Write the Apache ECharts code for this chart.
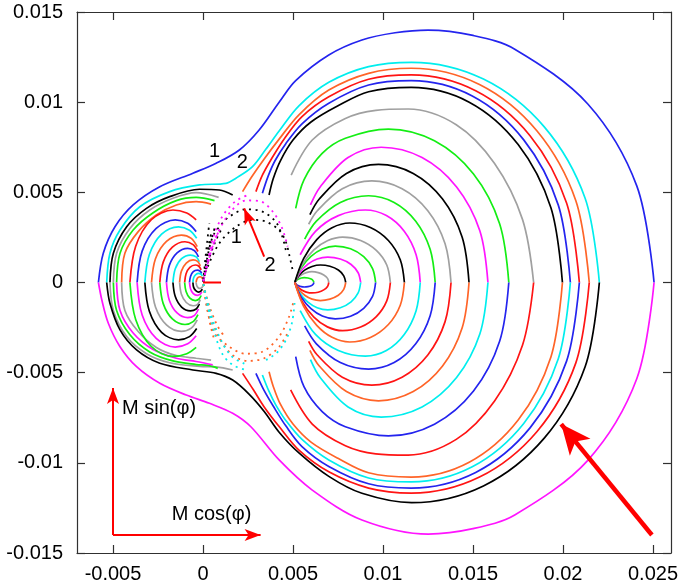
<!DOCTYPE html>
<html>
<head>
<meta charset="utf-8">
<script src="https://cdn.jsdelivr.net/npm/echarts@6/dist/echarts.min.js"></script>
<style>
  html, body { margin: 0; padding: 0; background: #fff; }
  #chart { width: 681px; height: 587px; }
</style>
</head>
<body>
<div id="chart"></div>
<script>
// All curve coordinates below are listed in units of 1e-3 (x = M cos(phi), y = M sin(phi)).
const S = 1e-3;

// axis ticks
const xTickValues = [-0.005, 0, 0.005, 0.01, 0.015, 0.02, 0.025];
const xTickText = ['-0.005', '0', '0.005', '0.01', '0.015', '0.02', '0.025'];
const yTickValues = [-0.015, -0.01, -0.005, 0, 0.005, 0.01, 0.015];
const yTickText = ['-0.015', '-0.01', '-0.005', '0', '0.005', '0.01', '0.015'];

// curve 1: outermost orbit (upper half / lower half)
const orbit1Upper = [[-5.81,0],[-5.54,1.62],[-4.89,3.09],[-3.88,4.30],[-2.40,5.31],[-0.56,6.06],[0.73,6.61],[2.02,7.35],[3.12,8.46],[4.23,10.0],[5.15,11.2],[6.99,12.62],[8.83,13.45],[10.67,13.85],[12.51,14.0],[15.0,13.7],[17.32,12.94],[21.38,9.90],[24.1,5.36],[25.06,0]];
const orbit1Lower = [[-5.81,0],[-5.62,-0.97],[-5.26,-2.26],[-4.61,-3.56],[-3.69,-4.67],[-2.40,-5.59],[-0.93,-6.24],[0.36,-6.70],[1.65,-7.25],[2.66,-8.0],[4.23,-9.84],[6.07,-11.51],[8.83,-13.17],[12.51,-13.95],[15.0,-13.65],[17.32,-12.89],[21.38,-9.86],[24.1,-5.34],[25.06,0]];

// curve 2: second orbit
const orbit2Upper = [[-5.35,0],[-5.17,1.62],[-4.61,2.91],[-3.51,4.20],[-1.85,5.04],[-0.19,5.41],[1.28,5.50],[1.83,5.78],[2.75,6.42],[3.5,7.4],[4.23,8.4],[5.33,9.8],[6.99,11.1],[9.2,11.97],[11.59,12.21],[15.58,11.28],[18.96,8.63],[21.23,4.67],[22.02,0]];
const orbit2Lower = [[-5.35,0],[-5.17,-1.15],[-4.61,-2.63],[-3.69,-3.74],[-2.40,-4.48],[-0.56,-4.85],[0.73,-5.04],[1.65,-5.41],[2.57,-6.2],[3.4,-7.15],[4.23,-8.3],[5.33,-9.45],[6.99,-10.75],[8.83,-11.69],[11.59,-12.21],[15.58,-11.28],[18.96,-8.63],[21.23,-4.67],[22.02,0]];

// large orbits around the right well that start near the saddle region
const rightOuterUpper = [
  [[2.2,5.04],[2.7,5.85],[3.4,6.85],[4.23,7.95],[5.33,9.3],[6.99,10.67],[9.2,11.6],[11.57,11.88],[15.36,10.98],[18.56,8.40],[20.71,4.55],[21.46,0]],
  [[2.94,5.04],[3.3,5.95],[3.8,6.85],[4.5,7.95],[5.5,9.2],[6.99,10.30],[9.2,11.27],[11.57,11.51],[15.15,10.63],[18.17,8.14],[20.2,4.41],[20.91,0]],
  [[3.30,4.95],[3.62,5.9],[4.0,6.75],[4.6,7.7],[5.5,8.8],[6.99,9.94],[9.2,10.95],[11.57,11.19],[14.96,10.34],[17.82,7.91],[19.74,4.29],[20.41,0]],
  [[3.67,4.85],[3.9,5.75],[4.3,6.75],[5.0,7.9],[6.0,8.9],[7.5,9.8],[9.2,10.58],[11.57,10.82],[14.79,10.0],[17.51,7.65],[19.33,4.14],[19.97,0]]
];
const rightOuterUpperColors = ['orange', 'red', 'blue', 'black'];
const rightOuterLower = [
  [[2.2,-5.04],[2.8,-5.95],[3.4,-6.9],[4.23,-7.99],[5.33,-9.3],[6.99,-10.5],[9.2,-11.4],[11.57,-11.68],[15.36,-10.79],[18.56,-8.26],[20.71,-4.47],[21.46,0]],
  [[2.94,-5.04],[3.4,-6.0],[3.9,-6.85],[4.6,-7.95],[5.5,-9.1],[6.99,-10.2],[9.2,-11.16],[11.57,-11.4],[15.15,-10.53],[18.17,-8.06],[20.2,-4.36],[20.91,0]],
  [[3.30,-5.13],[3.65,-6.0],[4.05,-6.8],[4.6,-7.65],[5.5,-8.7],[6.99,-9.84],[9.2,-10.84],[11.57,-11.06],[14.96,-10.22],[17.82,-7.82],[19.74,-4.23],[20.41,0]],
  [[3.67,-4.95],[3.9,-5.75],[4.3,-6.75],[5.0,-7.85],[6.0,-8.85],[7.5,-9.75],[9.2,-10.55],[11.57,-10.79],[14.79,-9.97],[17.51,-7.63],[19.33,-4.13],[19.97,0]]
];
const rightOuterLowerColors = ['red', 'blue', 'cyan', 'orange'];

// orbits inside the right well, upper halves
const rightInnerUpper = [
  [[5.1,0],[5.18,0.11],[5.31,0.19],[5.46,0.25],[5.63,0.27],[5.83,0.25],[6.01,0.19],[6.12,0.10],[6.16,0]],
  [[5.1,0],[5.25,0.24],[5.48,0.43],[5.74,0.55],[6.05,0.6],[6.4,0.55],[6.71,0.42],[6.92,0.23],[6.99,0]],
  [[5.1,0],[5.33,0.39],[5.67,0.70],[6.06,0.89],[6.52,0.97],[7.05,0.90],[7.52,0.69],[7.82,0.37],[7.93,0]],
  [[5.1,0],[5.39,0.56],[5.83,1.02],[6.34,1.30],[6.93,1.41],[7.63,1.30],[8.23,1.0],[8.62,0.54],[8.76,0]],
  [[5.1,0],[5.46,0.81],[6.0,1.45],[6.63,1.86],[7.35,2.02],[8.2,1.87],[8.93,1.43],[9.42,0.77],[9.59,0]],
  [[5.1,0],[5.52,1.01],[6.16,1.81],[6.91,2.32],[7.76,2.52],[8.76,2.33],[9.63,1.78],[10.21,0.97],[10.41,0]],
  [[5.1,0],[5.59,1.32],[6.32,2.38],[7.17,3.04],[8.15,3.30],[9.3,3.05],[10.3,2.33],[10.96,1.26],[11.19,0]],
  [[5.40,1.54],[6.25,2.84],[7.52,3.71],[9.02,4.02],[10.19,3.71],[11.18,2.84],[11.84,1.54],[12.07,0]],
  [[5.65,2.41],[6.30,3.40],[7.63,4.44],[9.2,4.81],[10.62,4.44],[11.82,3.40],[12.62,1.84],[12.9,0]],
  [[5.87,3.23],[6.35,3.98],[7.74,5.20],[9.38,5.63],[11.06,5.20],[12.49,3.98],[13.45,2.15],[13.78,0]],
  [[5.94,3.76],[6.46,4.63],[7.97,6.05],[9.75,6.55],[11.68,6.05],[13.31,4.63],[14.4,2.51],[14.78,0]],
  [[5.97,4.30],[6.51,5.30],[8.06,6.93],[9.9,7.5],[12.17,6.93],[14.09,5.30],[15.38,2.87],[15.83,0]],
  [[5.15,4.11],[5.61,5.69],[6.62,7.16],[7.91,8.0],[10.3,8.51],[12.86,7.86],[15.03,6.02],[16.48,3.26],[16.99,0]],
  [[4.90,5.96],[6.07,7.90],[7.91,9.1],[9.6,9.55],[11.4,9.62],[14.07,8.75],[16.2,6.6],[17.75,3.5],[18.37,0]]
];
const rightInnerUpperColors = ['green','gray','black','magenta','green','gray','black','magenta','green','gray','black','magenta','green','gray'];

// orbits inside the right well, lower halves
const rightInnerLower = [
  [[5.1,0],[5.18,-0.10],[5.31,-0.18],[5.46,-0.23],[5.63,-0.25],[5.83,-0.23],[6.01,-0.18],[6.12,-0.10],[6.16,0]],
  [[5.1,0],[5.25,-0.23],[5.48,-0.42],[5.74,-0.53],[6.05,-0.58],[6.4,-0.54],[6.71,-0.41],[6.92,-0.22],[6.99,0]],
  [[5.1,0],[5.33,-0.4],[5.67,-0.72],[6.06,-0.92],[6.52,-1.0],[7.05,-0.92],[7.52,-0.71],[7.82,-0.38],[7.93,0]],
  [[5.1,0],[5.39,-0.61],[5.83,-1.09],[6.34,-1.4],[6.93,-1.52],[7.63,-1.4],[8.23,-1.07],[8.62,-0.58],[8.76,0]],
  [[5.1,0],[5.46,-0.81],[6.0,-1.45],[6.63,-1.86],[7.35,-2.02],[8.2,-1.87],[8.93,-1.43],[9.42,-0.77],[9.59,0]],
  [[5.1,0],[5.52,-1.07],[6.16,-1.92],[6.91,-2.46],[7.76,-2.67],[8.76,-2.47],[9.63,-1.89],[10.21,-1.02],[10.41,0]],
  [[5.1,0],[5.59,-1.32],[6.32,-2.38],[7.17,-3.04],[8.15,-3.30],[9.3,-3.05],[10.3,-2.33],[10.96,-1.26],[11.19,0]],
  [[5.40,-1.56],[6.25,-2.88],[7.52,-3.77],[9.02,-4.08],[10.19,-3.77],[11.18,-2.88],[11.84,-1.56],[12.07,0]],
  [[5.65,-2.41],[6.30,-3.40],[7.63,-4.44],[9.2,-4.80],[10.62,-4.44],[11.82,-3.40],[12.62,-1.84],[12.9,0]],
  [[5.87,-3.26],[6.35,-4.02],[7.74,-5.25],[9.38,-5.69],[11.06,-5.25],[12.49,-4.02],[13.45,-2.17],[13.78,0]],
  [[5.94,-3.76],[6.46,-4.63],[7.97,-6.05],[9.75,-6.56],[11.68,-6.05],[13.31,-4.63],[14.4,-2.51],[14.78,0]],
  [[5.97,-4.28],[6.51,-5.27],[8.06,-6.9],[9.9,-7.46],[12.17,-6.9],[14.09,-5.27],[15.38,-2.86],[15.83,0]],
  [[5.15,-4.11],[5.61,-5.78],[6.62,-7.16],[7.91,-8.0],[10.3,-8.51],[12.86,-7.86],[15.03,-6.02],[16.48,-3.26],[16.99,0]],
  [[4.87,-5.96],[6.07,-7.85],[7.91,-9.05],[9.6,-9.5],[11.4,-9.57],[14.07,-8.7],[16.2,-6.57],[17.75,-3.48],[18.37,0]]
];
const rightInnerLowerColors = ['blue','red','orange','cyan','blue','red','orange','cyan','blue','red','orange','cyan','blue','red'];

// orbits around the left well, upper halves
const leftUpper = [
  [[-5.17,0],[-4.98,1.62],[-4.24,3.09],[-3.14,4.11],[-1.85,4.76],[-0.19,5.17],[0.91,5.13],[1.65,4.85]],
  [[-4.98,0],[-4.80,1.62],[-4.06,3.0],[-2.96,4.02],[-1.67,4.67],[-0.38,4.98],[0.87,4.72]],
  [[-4.80,0],[-4.61,1.62],[-3.88,2.91],[-2.77,3.87],[-1.48,4.54],[-0.38,4.72],[0.64,4.54]],
  [[-4.52,0],[-4.34,1.62],[-3.60,2.82],[-2.59,3.74],[-1.48,4.30],[-0.38,4.48],[0.45,4.35]],
  [[-4.06,0],[-3.74,2.01],[-2.87,3.48],[-1.67,4.02],[-0.9,3.85],[-0.38,3.47]],
  [[-3.66,0],[-3.38,1.74],[-2.6,3.0],[-1.54,3.47],[-0.85,3.28],[-0.38,2.82]],
  [[-3.23,0],[-2.98,1.55],[-2.30,2.68],[-1.36,3.09],[-0.75,2.9],[-0.35,2.45]],
  [[-2.86,0],[-2.64,1.32],[-2.03,2.28],[-1.2,2.63],[-0.65,2.45],[-0.32,1.99]],
  [[-2.40,0],[-2.21,1.13],[-1.7,1.96],[-1.0,2.26],[-0.55,2.1],[-0.28,1.72]],
  [[-2.03,0],[-1.87,0.95],[-1.44,1.64],[-0.85,1.89],[-0.47,1.76],[-0.25,1.42]],
  [[-1.67,0],[-1.54,0.76],[-1.19,1.32],[-0.7,1.52],[-0.38,1.42],[-0.2,1.15]],
  [[-1.3,0],[-1.2,0.63],[-0.93,1.08],[-0.55,1.25],[-0.3,1.17],[-0.15,0.92]],
  [[-1.02,0],[-0.94,0.49],[-0.73,0.84],[-0.43,0.97],[-0.23,0.9],[-0.1,0.7]],
  [[-0.75,0],[-0.69,0.35],[-0.54,0.6],[-0.32,0.69],[-0.17,0.64],[-0.07,0.5]],
  [[-0.56,0],[-0.52,0.26],[-0.4,0.44],[-0.24,0.51],[-0.12,0.47],[-0.04,0.36]],
  [[-0.38,0],[-0.35,0.16],[-0.27,0.28],[-0.16,0.32],[-0.08,0.29],[-0.02,0.2]]
];
const leftUpperColors = ['black','gray','green','orange','red','blue','cyan','orange','red','blue','cyan','orange','red','blue','cyan','orange'];

// orbits around the left well, lower halves
const leftLower = [
  [[-5.17,0],[-4.98,-1.55],[-4.24,-3.0],[-3.14,-3.95],[-1.85,-4.45],[-0.19,-4.65],[0.73,-4.68],[1.65,-4.85]],
  [[-4.98,0],[-4.80,-1.55],[-4.06,-2.9],[-2.96,-3.85],[-1.67,-4.35],[-0.38,-4.55],[0.3,-4.6],[0.82,-4.76]],
  [[-4.80,0],[-4.61,-1.55],[-3.88,-2.8],[-2.77,-3.72],[-1.48,-4.2],[-0.38,-4.38],[0.54,-4.57]],
  [[-4.52,0],[-4.34,-1.55],[-3.60,-2.72],[-2.59,-3.6],[-1.48,-4.05],[-0.38,-4.2],[0.45,-4.30]],
  [[-4.06,0],[-3.74,-2.05],[-2.87,-3.55],[-1.67,-4.1],[-0.9,-3.95],[-0.38,-3.6]],
  [[-3.66,0],[-3.38,-1.8],[-2.6,-3.1],[-1.54,-3.58],[-0.85,-3.4],[-0.38,-2.95]],
  [[-3.23,0],[-2.98,-1.6],[-2.30,-2.76],[-1.36,-3.18],[-0.75,-3.0],[-0.35,-2.55]],
  [[-2.86,0],[-2.64,-1.36],[-2.03,-2.35],[-1.2,-2.71],[-0.65,-2.53],[-0.32,-2.07]],
  [[-2.40,0],[-2.21,-1.17],[-1.7,-2.02],[-1.0,-2.33],[-0.55,-2.17],[-0.28,-1.78]],
  [[-2.03,0],[-1.87,-0.98],[-1.44,-1.69],[-0.85,-1.95],[-0.47,-1.82],[-0.25,-1.47]],
  [[-1.67,0],[-1.54,-0.78],[-1.19,-1.36],[-0.7,-1.57],[-0.38,-1.47],[-0.2,-1.19]],
  [[-1.3,0],[-1.2,-0.65],[-0.93,-1.11],[-0.55,-1.29],[-0.3,-1.21],[-0.15,-0.95]],
  [[-1.02,0],[-0.94,-0.5],[-0.73,-0.87],[-0.43,-1.0],[-0.23,-0.93],[-0.1,-0.72]],
  [[-0.75,0],[-0.69,-0.36],[-0.54,-0.62],[-0.32,-0.71],[-0.17,-0.66],[-0.07,-0.52]],
  [[-0.56,0],[-0.52,-0.27],[-0.4,-0.45],[-0.24,-0.53],[-0.12,-0.48],[-0.04,-0.37]],
  [[-0.38,0],[-0.35,-0.17],[-0.27,-0.29],[-0.16,-0.33],[-0.08,-0.3],[-0.02,-0.21]]
];
const leftLowerColors = ['gray','green','magenta','gray','green','magenta','black','gray','green','magenta','black','gray','green','magenta','black','gray'];

// sampled (dotted) trajectories leaving the left well
const dotsBlack = [
  [[0.02,0.2],[0.2,1.2],[0.54,2.54],[1.0,3.2],[1.46,3.65],[2.39,4.06],[3.30,3.93],[4.04,3.37],[4.41,2.54],[4.6,1.8]],
  [[0.02,0.2],[0.18,0.69],[0.91,2.18],[1.83,3.09],[2.75,3.47],[3.48,3.38],[4.23,2.90],[4.6,2.26],[4.8,1.5],[5.0,0.6]],
  [[0.02,0.05],[0.12,1.2],[0.25,2.4],[0.35,3.3]],
  [[0.02,0.05],[0.2,1.2],[0.45,2.3],[0.7,3.2]],
  [[0.02,0.05],[0.3,1.2],[0.7,2.3],[1.1,3.1]],
  [[0.02,0.05],[0.15,1.0],[0.3,2.0],[0.5,2.9]]
];
const dotsMagenta = [
  [[0.02,0.1],[0.4,1.6],[0.9,2.9],[1.6,4.0],[2.4,4.55],[3.2,4.5],[3.9,3.9],[4.4,3.0],[4.7,2.0]],
  [[0.02,0.1],[0.3,1.4],[0.6,2.6],[1.1,3.7],[1.8,4.5],[2.6,4.9]],
  [[0.02,0.05],[0.3,1.2],[0.6,2.2],[0.95,3.0]]
];
const dotsOrange = [
  [[0.02,-0.1],[0.54,-2.64],[1.46,-3.56],[2.39,-3.95],[3.3,-3.84],[4.23,-3.0],[4.78,-1.9],[5.05,-0.97]],
  [[0.02,-0.1],[0.6,-2.4],[1.5,-3.9],[2.5,-4.35],[3.4,-4.2],[4.2,-3.6],[4.7,-2.8]],
  [[0.02,-0.1],[0.2,-1.2],[0.4,-2.3],[0.6,-3.1]],
  [[0.02,-0.1],[0.35,-1.3],[0.8,-2.4],[1.2,-3.0]]
];
const dotsCyan = [
  [[0.02,-0.1],[0.3,-1.5],[0.7,-3.0],[1.1,-4.0],[1.65,-4.57],[2.39,-4.85]],
  [[0.02,-0.1],[0.45,-1.8],[1.0,-3.2],[1.6,-4.1],[2.3,-4.5]],
  [[3.5,-4.3],[4.1,-3.9],[4.6,-3.2],[4.95,-2.2],[5.1,-1.0]]
];

// short marker at the left minimum
const originMark = [[0,0],[1.0,0]];

const palette = {
  blue: '#2424ee', cyan: '#00eeee', orange: '#ff6428', red: '#ff1414',
  green: '#14ee14', magenta: '#ff14ff', gray: '#a0a0a0', black: '#000000'
};
const toData = pts => pts.map(p => [p[0] * S, p[1] * S]);

const series = [];
function addCurve(pts, color, width) {
  series.push({
    type: 'line', data: toData(pts), showSymbol: false, symbol: 'none',
    smooth: 0.33, silent: true, animation: false,
    lineStyle: { color: color, width: width || 1.7 }
  });
}
function addDots(pts, color, dash) {
  series.push({
    type: 'line', data: toData(pts), showSymbol: false, symbol: 'none',
    smooth: 0.33, silent: true, animation: false,
    lineStyle: { color: color, width: 1.8, type: dash || [2, 4.5] }
  });
}

leftUpper.forEach((c, i) => addCurve(c, palette[leftUpperColors[i]]));
leftLower.forEach((c, i) => addCurve(c, palette[leftLowerColors[i]]));
rightInnerUpper.forEach((c, i) => addCurve(c, palette[rightInnerUpperColors[i]]));
rightInnerLower.forEach((c, i) => addCurve(c, palette[rightInnerLowerColors[i]]));
rightOuterUpper.forEach((c, i) => addCurve(c, palette[rightOuterUpperColors[i]]));
rightOuterLower.forEach((c, i) => addCurve(c, palette[rightOuterLowerColors[i]]));
addCurve(orbit2Upper, palette.cyan);
addCurve(orbit2Lower, palette.black);
addCurve(orbit1Upper, palette.blue);
addCurve(orbit1Lower, palette.magenta);
dotsBlack.forEach(c => addDots(c, palette.black));
dotsMagenta.forEach((c, i) => addDots(c, palette.magenta, i === 2 ? [2, 1.5] : undefined));
dotsOrange.forEach(c => addDots(c, palette.orange));
dotsCyan.forEach(c => addDots(c, palette.cyan));

// red marker at the origin, carrying the annotation arrows
const arrowRed = '#ff0000';
series.push({
  type: 'line', data: toData(originMark), showSymbol: false, symbol: 'none',
  silent: true, animation: false, lineStyle: { color: arrowRed, width: 2 },
  markLine: {
    silent: true, animation: false, symbol: ['none', 'arrow'], symbolSize: [9, 16],
    label: { show: false },
    lineStyle: { color: arrowRed, width: 2, type: 'solid' },
    data: [
      [{ coord: [-5.0 * S, -14.0 * S] }, { coord: [-5.0 * S, -5.85 * S] }],
      [{ coord: [-5.0 * S, -14.0 * S] }, { coord: [3.2 * S, -14.0 * S] }],
      [{ coord: [3.40 * S, 1.43 * S] }, { coord: [2.29 * S, 4.11 * S] }],
      [{ coord: [24.94 * S, -14.0 * S], lineStyle: { width: 4.5 } },
       { coord: [19.9 * S, -7.85 * S], symbolSize: [20, 30] }]
    ]
  }
});

const axisFont = { fontFamily: '"Liberation Sans", Arial, sans-serif', fontSize: 20, color: '#000' };
const lineCol = '#303030';
const labelFor = (vals, texts) => v => {
  const i = vals.findIndex(t => Math.abs(t - v) < 1e-9);
  return i >= 0 ? texts[i] : '';
};

const chart = echarts.init(document.getElementById('chart'), null, { renderer: 'canvas' });
chart.setOption({
  animation: false,
  backgroundColor: '#ffffff',
  grid: { left: 77, right: 7, top: 12, bottom: 34, containLabel: false },
  xAxis: [
    { type: 'value', min: -0.007, max: 0.026, position: 'bottom',
      axisLine: { show: true, onZero: false, lineStyle: { color: lineCol, width: 1.2 } },
      axisTick: { show: true, inside: true, length: 8, customValues: xTickValues, lineStyle: { color: lineCol, width: 1.2 } },
      axisLabel: Object.assign({ margin: 11, customValues: xTickValues, formatter: labelFor(xTickValues, xTickText) }, axisFont),
      splitLine: { show: false } },
    { type: 'value', min: -0.007, max: 0.026, position: 'top',
      axisLine: { show: true, onZero: false, lineStyle: { color: lineCol, width: 1.2 } },
      axisTick: { show: true, inside: true, length: 8, customValues: xTickValues, lineStyle: { color: lineCol, width: 1.2 } },
      axisLabel: { show: false }, splitLine: { show: false } }
  ],
  yAxis: [
    { type: 'value', min: -0.015, max: 0.015, interval: 0.005, position: 'left',
      axisLine: { show: true, onZero: false, lineStyle: { color: lineCol, width: 1.2 } },
      axisTick: { show: true, inside: true, length: 8, lineStyle: { color: lineCol, width: 1.2 } },
      axisLabel: Object.assign({ margin: 14, formatter: labelFor(yTickValues, yTickText) }, axisFont),
      splitLine: { show: false } },
    { type: 'value', min: -0.015, max: 0.015, interval: 0.005, position: 'right',
      axisLine: { show: true, onZero: false, lineStyle: { color: lineCol, width: 1.2 } },
      axisTick: { show: true, inside: true, length: 8, lineStyle: { color: lineCol, width: 1.2 } },
      axisLabel: { show: false }, splitLine: { show: false } }
  ],
  series: series
});

// text annotations placed in data coordinates
const notes = [
  { text: '1', at: [0.64, 7.24], align: 'center' },
  { text: '2', at: [2.18, 6.63], align: 'center' },
  { text: '1', at: [1.85, 2.47], align: 'center' },
  { text: '2', at: [3.73, 0.97], align: 'center' },
  { text: 'M sin(\u03c6)', at: [-4.5, -6.96], align: 'left' },
  { text: 'M cos(\u03c6)', at: [-1.74, -12.89], align: 'left' }
];
chart.setOption({
  graphic: notes.map(n => {
    const p = chart.convertToPixel({ xAxisIndex: 0, yAxisIndex: 0 }, [n.at[0] * S, n.at[1] * S]);
    return {
      type: 'text', x: p[0], y: p[1], silent: true,
      style: { text: n.text, fill: '#000', font: '20px "Liberation Sans", Arial, sans-serif',
               align: n.align, verticalAlign: 'middle' }
    };
  })
});
</script>
</body>
</html>
